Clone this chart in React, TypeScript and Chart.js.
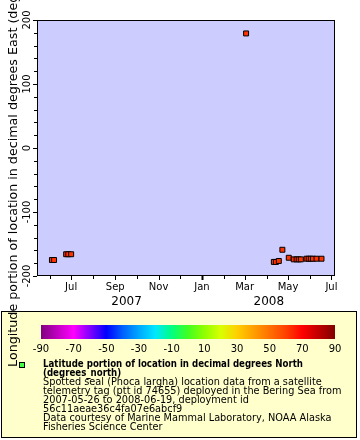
import React, { useEffect, useRef } from 'react';
import { Chart, registerables } from 'chart.js';

Chart.register(...registerables);

// ---- data ----
const pointDates = [
  '2007-06-04', '2007-06-07', '2007-06-24', '2007-06-27', '2007-07-01',
  '2008-03-03',
  '2008-04-11', '2008-04-14', '2008-04-18', '2008-04-23',
  '2008-05-02', '2008-05-09', '2008-05-13', '2008-05-16', '2008-05-19',
  '2008-05-27', '2008-05-30', '2008-06-02', '2008-06-05', '2008-06-10', '2008-06-17',
];
const longitudes = [
  -175, -175, -166, -166, -166,
  179,
  -178, -178, -176.5, -159,
  -171.5, -174, -174, -174, -174,
  -173, -173, -173, -173, -173, -173,
];

const xMinDate = '2007-05-14';
const xMaxDate = '2008-07-06';
const xTickDates = [
  '2007-06-01', '2007-07-01', '2007-08-01', '2007-09-01', '2007-10-01', '2007-11-01', '2007-12-01',
  '2008-01-01', '2008-02-01', '2008-03-01', '2008-04-01', '2008-05-01', '2008-06-01', '2008-07-01',
];
const xTickLabels = ['', 'Jul', '', 'Sep', '', 'Nov', '', 'Jan', '', 'Mar', '', 'May', '', 'Jul'];
const yearLabelDates = ['2007-09-17', '2008-04-04'];
const yearLabels = ['2007', '2008'];

const yMin = -200;
const yMax = 200;
const yStep = 20;
const yLabelValues = [-200, -100, 0, 100, 200];
const yLabels = ['-200', '-100', '0', '100', '200'];

const colorBarLabels = ['-90', '-70', '-50', '-30', '-10', '10', '30', '50', '70', '90'];
const colorBarStops = [
  '#800080', '#c000c0', '#ff00ff', '#8000ff', '#0000ff', '#0060ff', '#00a8ff', '#00e8ff',
  '#00ff80', '#40ff20', '#90ff00', '#d8ff00', '#ffd000', '#ffa000', '#ff7000', '#ff4000',
  '#ff0000', '#c00000', '#800000',
];

const yTitle = 'Longitude portion of location in decimal degrees East (degrees_east)';
const legendTitle = ['Latitude portion of location in decimal degrees North', '(degrees_north)'];
const legendLines = [
  'Spotted seal (Phoca largha) location data from a satellite',
  'telemetry tag (ptt id 74655) deployed in the Bering Sea from',
  '2007-05-26 to 2008-06-19, deployment id',
  '56c11aeae36c4fa07e6abcf9',
  'Data courtesy of Marine Mammal Laboratory, NOAA Alaska',
  'Fisheries Science Center',
];

const FONT = "'DejaVu Sans', sans-serif";
const FONT_COND = "'DejaVu Sans Condensed', 'DejaVu Sans', sans-serif";

const decorPlugin = {
  id: 'decor',
  beforeDraw(chart: any) {
    const { ctx, chartArea: a } = chart;
    ctx.save();
    ctx.fillStyle = '#ffffff';
    ctx.fillRect(0, 0, chart.width, chart.height);
    ctx.fillStyle = '#ccccff';
    ctx.fillRect(a.left, a.top, a.right - a.left, a.bottom - a.top);
    ctx.restore();
  },
  afterDraw(chart: any) {
    const { ctx, chartArea: a } = chart;
    const xs = chart.scales.x;
    const ys = chart.scales.y;
    ctx.save();
    // plot border
    ctx.strokeStyle = '#000';
    ctx.lineWidth = 1;
    ctx.strokeRect(Math.round(a.left) + 0.5, Math.round(a.top) + 0.5, Math.round(a.right - a.left) - 1, Math.round(a.bottom - a.top) - 1);

    // y ticks
    ys.ticks.forEach((t: any) => {
      const py = Math.round(ys.getPixelForValue(t.value)) + 0.5;
      const major = yLabelValues.includes(t.value);
      ctx.beginPath();
      ctx.moveTo(a.left, py);
      ctx.lineTo(a.left - (major ? 4 : 3), py);
      ctx.stroke();
    });
    // y labels rotated
    ctx.fillStyle = '#000';
    ctx.font = `10px ${FONT}`;
    ctx.textAlign = 'center';
    ctx.textBaseline = 'alphabetic';
    yLabelValues.forEach((v, i) => {
      const py = ys.getPixelForValue(v);
      ctx.save();
      ctx.translate(30, py);
      ctx.rotate(-Math.PI / 2);
      ctx.fillText(yLabels[i], 0, 0);
      ctx.restore();
    });
    // x ticks
    xs.ticks.forEach((t: any, i: number) => {
      const px = Math.round(xs.getPixelForValue(t.value)) + 0.5;
      const lab = xTickLabels[i];
      const isJan = lab === 'Jan';
      ctx.lineWidth = isJan ? 2 : 1;
      ctx.beginPath();
      ctx.moveTo(px, a.bottom);
      ctx.lineTo(px, a.bottom + (lab ? 4 : 3));
      ctx.stroke();
    });
    ctx.lineWidth = 1;
    // year labels
    ctx.font = `12px ${FONT}`;
    yearLabelDates.forEach((d, i) => {
      ctx.fillText(yearLabels[i], xs.getPixelForValue(Date.parse(d)), 305);
    });

    // legend box
    ctx.fillStyle = '#ffffcc';
    ctx.fillRect(1, 311, 356, 127);
    ctx.strokeStyle = '#000';
    ctx.strokeRect(1.5, 311.5, 355, 126);
    // colour bar
    const cbL = 41, cbR = 335, cbT = 325, cbB = 339;
    const g = ctx.createLinearGradient(cbL, 0, cbR, 0);
    colorBarStops.forEach((c, i) => g.addColorStop(i / (colorBarStops.length - 1), c));
    ctx.fillStyle = g;
    ctx.fillRect(cbL, cbT, cbR - cbL, cbB - cbT);
    ctx.fillStyle = '#000';
    ctx.font = `10px ${FONT}`;
    ctx.textAlign = 'center';
    colorBarLabels.forEach((l, i) => {
      const px = cbL + ((Number(l) + 90) / 180) * (cbR - cbL);
      ctx.fillText(l, px, 352);
    });
    // marker
    ctx.fillStyle = '#44ff44';
    ctx.fillRect(19.5, 362.5, 5, 5);
    ctx.strokeRect(19.5, 362.5, 5, 5);
    // legend text
    ctx.fillStyle = '#000';
    ctx.textAlign = 'left';
    ctx.font = `bold 9.6px ${FONT_COND}`;
    const base = 366.5;
    const lh = 9.06;
    legendTitle.forEach((l, i) => ctx.fillText(l, 43, base + i * lh));
    ctx.font = `9.75px ${FONT}`;
    legendLines.forEach((l, i) => ctx.fillText(l, 43, base + (i + 2) * lh));

    // y title
    ctx.font = `12.7px ${FONT}`;
    ctx.textAlign = 'center';
    ctx.save();
    ctx.translate(17, (a.top + a.bottom) / 2);
    ctx.rotate(-Math.PI / 2);
    ctx.fillText(yTitle, 0, 0);
    ctx.restore();
    ctx.restore();
  },
};

export default function App() {
  const ref = useRef<HTMLCanvasElement | null>(null);
  useEffect(() => {
    document.body.style.margin = '0';
    const canvas = ref.current!;
    const chart = new Chart(canvas, {
      type: 'scatter',
      data: {
        datasets: [
          {
            data: pointDates.map((d, i) => ({ x: Date.parse(d), y: longitudes[i] })),
            pointStyle: 'rect',
            pointRadius: 3.5,
            pointHoverRadius: 3.5,
            backgroundColor: '#ff3300',
            borderColor: '#000000',
            borderWidth: 1,
          },
        ],
      },
      options: {
        animation: false,
        responsive: false,
        devicePixelRatio: 1,
        events: [],
        layout: { padding: { left: 0, top: 20, right: 25, bottom: 134 } },
        plugins: { legend: { display: false }, tooltip: { enabled: false } },
        scales: {
          x: {
            type: 'linear',
            min: Date.parse(xMinDate),
            max: Date.parse(xMaxDate),
            afterFit: (s: any) => { s.height = 30; },
            afterBuildTicks: (s: any) => { s.ticks = xTickDates.map((d) => ({ value: Date.parse(d) })); },
            grid: { display: false, drawTicks: false },
            border: { display: false },
            ticks: {
              autoSkip: false,
              maxRotation: 0,
              minRotation: 0,
              padding: 5,
              color: '#000',
              font: { family: FONT, size: 10 },
              callback: (_v: any, i: number) => xTickLabels[i] ?? '',
            },
          },
          y: {
            min: yMin,
            max: yMax,
            afterFit: (s: any) => { s.width = 37; },
            grid: { display: false, drawTicks: false },
            border: { display: false },
            ticks: { display: false, stepSize: yStep },
          },
        },
      },
      plugins: [decorPlugin],
    } as any);
    return () => chart.destroy();
  }, []);
  return <canvas ref={ref} width={360} height={440} style={{ display: 'block', width: 360, height: 440 }} />;
}
